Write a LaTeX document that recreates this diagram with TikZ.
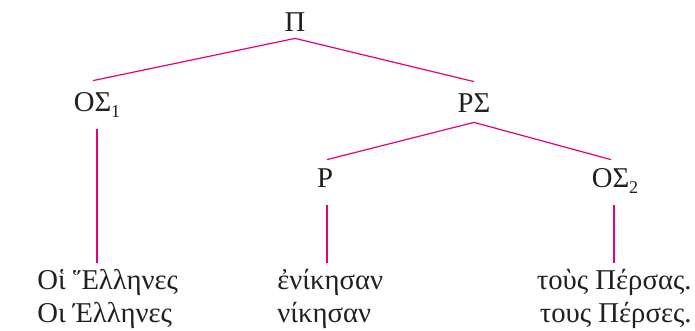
\documentclass[tikz,border=0pt]{standalone}
\usepackage{fontspec}
\setmainfont{Liberation Serif}
\usepackage{tikz}
\usetikzlibrary{positioning,calc}
\definecolor{Pink}{RGB}{229,0,126}
\definecolor{Ink}{RGB}{35,31,32}
\newcommand\subidx[1]{\raisebox{-3pt}{\fontsize{9}{9}\selectfont #1}}

\begin{document}
\begin{tikzpicture}[x=0.5pt,y=-0.5pt,
 t/.style={inner sep=0pt,text height=9.5pt,text depth=0pt,anchor=base,text=Ink,font=\fontsize{14.35}{17}\selectfont},
 g/.style={inner sep=0pt,anchor=base west,text=Ink,font=\fontsize{14.35}{17}\selectfont},
 e/.style={draw=Pink,line width=0.6pt}]
\useasboundingbox (0,0) rectangle (695,331);
\node[t] (pi) at (295,32) {Π};
\node[t] (os1) at (97,112) {ΟΣ\subidx{1}};
\node[t] (rs) at (474,113) {ΡΣ};
\node[t] (r) at (325,188) {Ρ};
\node[t] (os2) at (615,188) {ΟΣ\subidx{2}};
\node[g] (g1) at (37,289) {Οἱ Ἕλληνες};
\node[g] (g2) at (37,322) {Οι Έλληνες};
\node[g] (g3) at (277,289) {ἐνίκησαν};
\node[g] (g4) at (277,322) {νίκησαν};
\node[g,anchor=base east] (g5) at (692,289) {τοὺς Πέρσας.};
\node[g,anchor=base east] (g6) at (692,322) {τους Πέρσες.};
\coordinate (f1) at (97,263);
\coordinate (f2) at (327,263);
\coordinate (f3) at (614,263);
\draw[e] ([yshift=-3pt]pi.south)--([xshift=-2pt,yshift=6pt]os1.north);
\draw[e] ([yshift=-3pt]pi.south)--([yshift=6pt]rs.north);
\draw[e] ([yshift=-4.5pt]rs.south)--([xshift=1pt,yshift=4.5pt]r.north);
\draw[e] ([yshift=-4.5pt]rs.south)--([xshift=-2pt,yshift=4.5pt]os2.north);
\draw[e] ([yshift=-8.5pt]os1.south)--(f1);
\draw[e] ([xshift=1pt,yshift=-8.5pt]r.south)--(f2);
\draw[e] ([xshift=-0.5pt,yshift=-8.5pt]os2.south)--(f3);
\end{tikzpicture}
\end{document}
